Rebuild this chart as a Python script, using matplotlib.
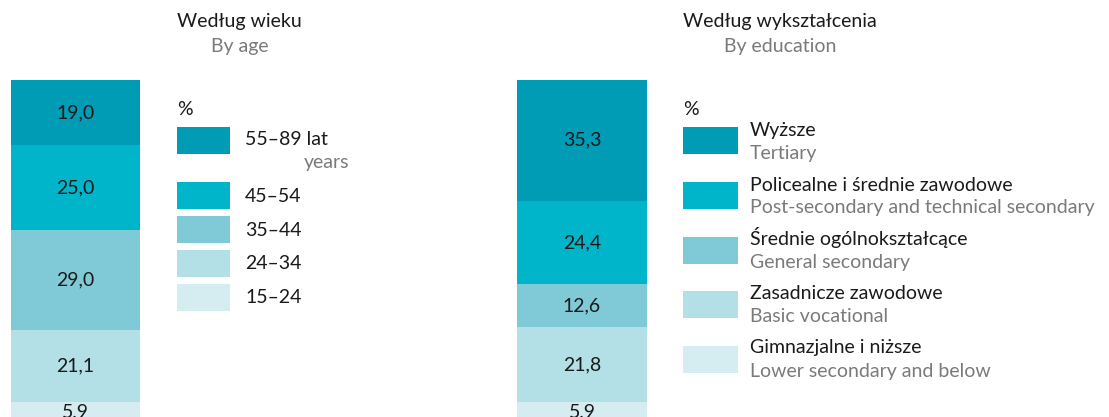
import matplotlib.pyplot as plt
from matplotlib.patches import Rectangle

# data
age_labels = ['15–24', '24–34', '35–44', '45–54', '55–89 lat']
age_values = [5.9, 21.1, 29.0, 25.0, 19.0]

edu_pl = ['Gimnazjalne i niższe', 'Zasadnicze zawodowe', 'Średnie ogólnokształcące',
          'Policealne i średnie zawodowe', 'Wyższe']
edu_en = ['Lower secondary and below', 'Basic vocational', 'General secondary',
          'Post-secondary and technical secondary', 'Tertiary']
edu_values = [5.9, 21.8, 12.6, 24.4, 35.3]

colors = ['#d5ecf1', '#b3dfe6', '#80cad8', '#00b5c9', '#009bb4']

W, H = 1109, 417
dark = '#1a1a1a'
grey = '#7a7a7a'
fs = 14
plt.rcParams['font.family'] = ['Lato', 'DejaVu Sans']

fig = plt.figure(figsize=(W / 100, H / 100), dpi=100)
fig.set_facecolor('white')


def fx(x):
    return x / W


def fy(y):
    return 1 - y / H


def txt(x, y, s, c=dark, **kw):
    fig.text(fx(x), fy(y), s, color=c, fontsize=fs, va='baseline', ha='left', **kw)


def swatch(x0, y0, x1, y1, c):
    fig.add_artist(Rectangle((fx(x0), fy(y1)), fx(x1 - x0), (y1 - y0) / H,
                             transform=fig.transFigure, color=c, lw=0))


def stacked(x0, x1, values):
    # bar top at y=80px, 100% = 342px, bottom runs off the figure
    ax = fig.add_axes([fx(x0), fy(80 + 342), fx(x1 - x0), 342 / H])
    bottom = 0
    for v, c in zip(values, colors):
        ax.bar(0, v, bottom=bottom, width=1, color=c, lw=0)
        ax.text(0, bottom + v / 2, f'{v:.1f}'.replace('.', ','), ha='center', va='center',
                fontsize=fs, color=dark)
        bottom += v
    ax.set_xlim(-0.5, 0.5)
    ax.set_ylim(0, 100)
    ax.axis('off')


stacked(11, 140, age_values)
stacked(517, 647, edu_values)

# age titles + legend
txt(177, 27, 'Według wieku')
txt(211, 52, 'By age', grey)
txt(177, 115, '%')
age_rows = [(284, 303), (250, 269), (216, 236), (182, 202), (127, 145)]
for (top, base), lab, c in zip(age_rows, age_labels, colors):
    swatch(177, top, 230, top + 27, c)
    txt(245, base, lab)
txt(304, 168, 'years', grey)

# education titles + legend
txt(683, 27, 'Według wykształcenia')
txt(724, 52, 'By education', grey)
txt(683, 115, '%')
edu_rows = [(346, 353, 377), (291, 299, 322), (237, 245, 268), (182, 191, 213), (127, 136, 159)]
for (top, b1, b2), pl, en, c in zip(edu_rows, edu_pl, edu_en, colors):
    swatch(683, top, 738, top + 27, c)
    txt(750, b1, pl)
    txt(750, b2, en, grey)

fig.savefig('out.png', dpi=100, facecolor='white')
